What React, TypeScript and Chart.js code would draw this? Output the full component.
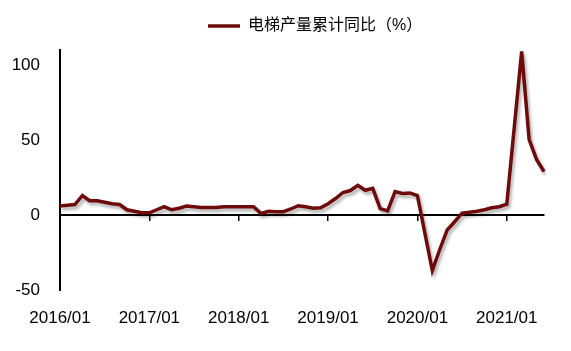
import React, { useEffect, useRef } from 'react';
import { Chart, registerables } from 'chart.js';

Chart.register(...registerables);

// Monthly categories 2016/01 – 2021/06
const months: string[] = [];
for (let y = 2016; y <= 2021; y++) {
  for (let m = 1; m <= 12; m++) {
    if (y === 2021 && m > 6) break;
    months.push(`${y}/${String(m).padStart(2, '0')}`);
  }
}

const seriesLabel = '电梯产量累计同比（%）';

// Elevator output, cumulative YoY (%)
const yoy2016 = [6, 6.5, 7, 13, 9.5, 9.5, 8.5, 7.5, 7, 3.5, 2.5, 1.5];
const yoy2017 = [1.5, 3.5, 5.5, 3.5, 4.5, 6, 5.5, 5, 5, 5, 5.5, 5.5];
const yoy2018 = [5.5, 5.5, 5.5, 1, 2.5, 2.2, 2.2, 4, 6.2, 5.5, 4.5, 4.8];
const yoy2019 = [7.5, 11, 15, 16.3, 19.8, 16.5, 17.8, 4.2, 2.7, 15.6, 14.4, 14.7];
const yoy2020 = [13, null, -37, -23, -10, -4.5, 1.2, 1.8, 2.5, 3.5, 4.8, 5.5];
const yoy2021 = [7.2, null, 109, 50.5, 37, 29];

const yoy = [...yoy2016, ...yoy2017, ...yoy2018, ...yoy2019, ...yoy2020, ...yoy2021];

const yTicks = [-50, 0, 50, 100];

const lineColor = '#6e0a0a';

const shadowPlugin = {
  id: 'lineShadow',
  beforeDatasetsDraw(chart: any) {
    const c = chart.ctx;
    c.save();
    c.shadowColor = 'rgba(0,0,0,0.3)';
    c.shadowBlur = 3;
    c.shadowOffsetX = 2;
    c.shadowOffsetY = 3;
  },
  afterDatasetsDraw(chart: any) {
    chart.ctx.restore();
  },
};

const legendPlace = {
  id: 'legendPlace',
  afterLayout(chart: any) {
    const lg: any = chart.legend;
    if (!lg || !lg.lineWidths) return;
    const pad = lg.options.labels.padding;
    const cur = (lg.left + pad + lg.right - lg.lineWidths[0]) / 2;
    const dx = 208 - cur;
    lg.left += dx;
    lg.right += dx;
    const h = lg.height;
    lg.top = 18 - pad;
    lg.bottom = lg.top + h;
  },
};

export default function App() {
  const ref = useRef<HTMLCanvasElement>(null);

  useEffect(() => {
    if (!ref.current) return;
    Chart.defaults.font.family = "'Liberation Sans', 'Noto Sans CJK SC', sans-serif";
    Chart.defaults.color = '#000';
    const chart = new Chart(ref.current, {
      type: 'line',
      data: {
        labels: months,
        datasets: [
          {
            label: seriesLabel,
            data: yoy,
            borderColor: lineColor,
            backgroundColor: lineColor,
            borderWidth: 3.5,
            pointRadius: 0,
            pointHoverRadius: 0,
            tension: 0,
            spanGaps: true,
            fill: false,
          },
        ],
      },
      options: {
        animation: false,
        responsive: true,
        maintainAspectRatio: false,
        layout: { padding: { left: 0, right: 27, top: 14, bottom: 0 } },
        plugins: {
          legend: {
            display: true,
            position: 'top',
            labels: {
              usePointStyle: true,
              pointStyle: 'line',
              pointStyleWidth: 32,
              padding: 10,
              color: '#000',
              font: { size: 16 },
            },
          },
          tooltip: { enabled: false },
        },
        scales: {
          x: {
            type: 'category',
            position: 'bottom',
            grid: { display: false },
            border: { display: false },
            ticks: {
              autoSkip: false,
              maxRotation: 0,
              padding: 10,
              color: '#000',
              font: { size: 17 },
              callback: (_v: any, i: number) => (i % 12 === 0 ? months[i] : ''),
            },
            afterFit: (s: any) => {
              s.height = 61;
            },
          },
          x2: {
            type: 'category',
            labels: months,
            position: { y: 0 } as any,
            grid: {
              display: true,
              drawOnChartArea: false,
              drawTicks: true,
              tickLength: 5,
              lineWidth: 1.5,
              color: (c: any) => (c.index % 12 === 0 && c.index > 0 ? '#000' : 'rgba(0,0,0,0)'),
            },
            border: { display: true, color: '#000', width: 2 },
            ticks: { display: false },
          },
          y: {
            min: -50,
            max: 110,
            afterBuildTicks: (s: any) => {
              s.ticks = yTicks.map((v) => ({ value: v }));
            },
            grid: { display: true, drawOnChartArea: false, drawTicks: false },
            border: { display: true, color: '#000', width: 2 },
            ticks: { stepSize: 50, padding: 20, color: '#000', font: { size: 17 } },
            afterFit: (s: any) => {
              s.width = 60;
            },
          },
        },
      } as any,
      plugins: [shadowPlugin, legendPlace],
    });
    return () => chart.destroy();
  }, []);

  return (
    <div style={{ position: 'absolute', left: 0, top: 0, width: 571, height: 351 }}>
      <canvas ref={ref} />
    </div>
  );
}
